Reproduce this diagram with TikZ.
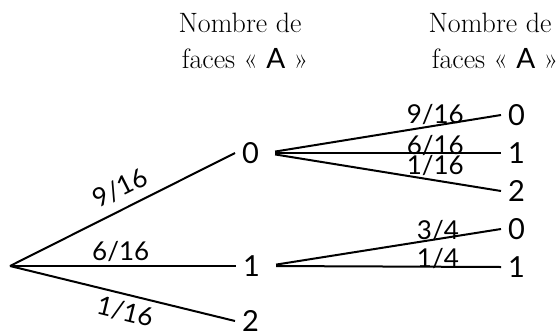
\documentclass[tikz,border=0pt]{standalone}
\usepackage{fontspec}
\setsansfont{Lato}
\begin{document}
\begin{tikzpicture}[x=1pt,y=-1pt,
  edge/.style={line width=2pt, black},
  leaf/.style={font=\sffamily\fontsize{29}{34}\selectfont, anchor=west, inner xsep=7pt, inner ysep=0pt},
  prob/.style={font=\sffamily\fontsize{26}{30}\selectfont, inner sep=2pt},
  head/.style={font=\fontsize{28}{32}\selectfont, anchor=base, inner sep=0pt}]
\useasboundingbox (0,0) rectangle (559,335);
% headers
\node[head] (h1a) at (240,32) {Nombre de};
\node[head] (h1b) at (245,68) {faces « \textsf{A} »};
\node[head] (h2a) at (490,32) {Nombre de};
\node[head] (h2b) at (495,68) {faces « \textsf{A} »};
% root
\coordinate (r) at (10,266);
% level 1
\node[leaf] (n0) at (235,153) {0};
\node[leaf] (n1) at (236,266) {1};
\node[leaf] (n2) at (235,321) {2};
% level 2
\node[leaf] (m00) at (501,115) {0};
\node[leaf] (m01) at (501,153) {1};
\node[leaf] (m02) at (501,191) {2};
\node[leaf] (m10) at (501,229) {0};
\node[leaf] (m11) at (501,267) {1};
% level 1 edges
\draw[edge] (r) -- node[prob, sloped, above, pos=0.53, inner sep=9pt] (p0) {9/16} (n0.west);
\draw[edge] (r) -- node[prob, above, pos=0.49, inner sep=3pt] (p1) {6/16} (n1.west);
\draw[edge] (r) -- node[prob, sloped, below, pos=0.53, inner sep=6pt] (p2) {1/16} (n2.west);
% level 2 edges
\draw[edge, shorten <=9pt] (n0.east) -- node[prob, above, pos=0.72, inner sep=0pt] (q0) {9/16} (m00.west);
\draw[edge, shorten <=9pt] (n0.east) -- node[prob, anchor=base, pos=0.72, inner sep=0pt, yshift=-1pt] (q1) {6/16} (m01.west);
\draw[edge, shorten <=9pt] (n0.east) -- node[prob, anchor=north, pos=0.72, yshift=26pt, inner sep=0pt] (q2) {1/16} (m02.west);
\draw[edge, shorten <=9pt] (n1.east) -- node[prob, anchor=base, pos=0.73, inner sep=0pt, yshift=-1pt] (s0) {3/4} (m10.west);
\draw[edge, shorten <=9pt] (n1.east) -- node[prob, anchor=base, pos=0.73, inner sep=0pt, yshift=-1pt] (s1) {1/4} (m11.west);
\end{tikzpicture}
\end{document}
